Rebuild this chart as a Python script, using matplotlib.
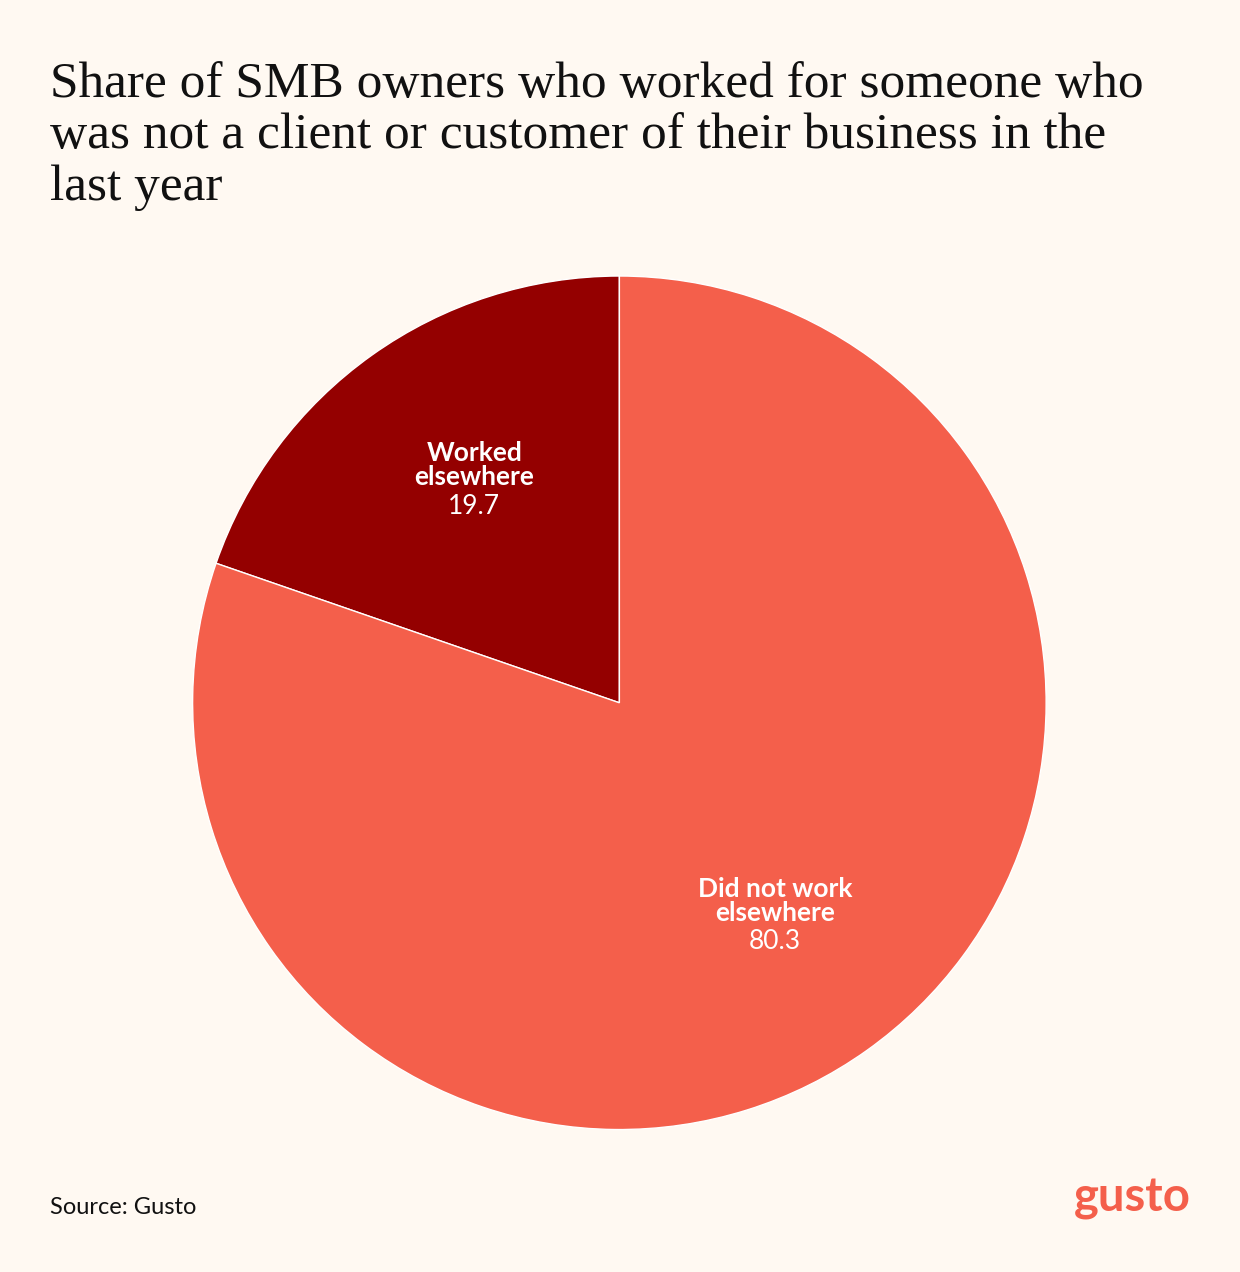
import matplotlib.pyplot as plt

labels = ["Worked\nelsewhere", "Did not work\nelsewhere"]
values = [19.7, 80.3]
colors = ["#940000", "#F45F4B"]
bg = "#FFF9F2"

fig = plt.figure(figsize=(12.4, 12.72), dpi=100, facecolor=bg)
ax = fig.add_axes([0.155, 0.112, 0.689, 0.671])
ax.set_facecolor(bg)

wedges, _ = ax.pie(values, colors=colors, startangle=90, counterclock=True,
                   radius=1, frame=False,
                   wedgeprops=dict(edgecolor="white", linewidth=1))
ax.set_xlim(-1, 1)
ax.set_ylim(-1, 1)
ax.set_aspect("equal")
ax.axis("off")

# label positions in data coords (pie radius = 1)
label_pos = [(-0.34, 0.50), (0.365, -0.52)]
for (x, y), lab, v in zip(label_pos, labels, values):
    ax.text(x, y, lab, ha="center", va="bottom", color="white",
            fontsize=19, fontweight="bold", family="Lato", linespacing=1.0)
    ax.text(x, y - 0.01, f"{v}", ha="center", va="top", color="white",
            fontsize=19, family="Lato")

fig.text(0.04, 0.952, "Share of SMB owners who worked for someone who\n"
         "was not a client or customer of their business in the\nlast year",
         ha="left", va="top", fontsize=37, family="Liberation Serif",
         linespacing=1.15, color="#111111")

fig.text(0.04, 0.051, "Source: Gusto", ha="left", va="center",
         fontsize=17, family="Lato", color="#111111")
fig.text(0.96, 0.058, "gusto", ha="right", va="center", fontsize=34,
         fontweight="bold", family="Lato", color="#F45F4B")

fig.savefig("out.png", dpi=100, facecolor=bg)
